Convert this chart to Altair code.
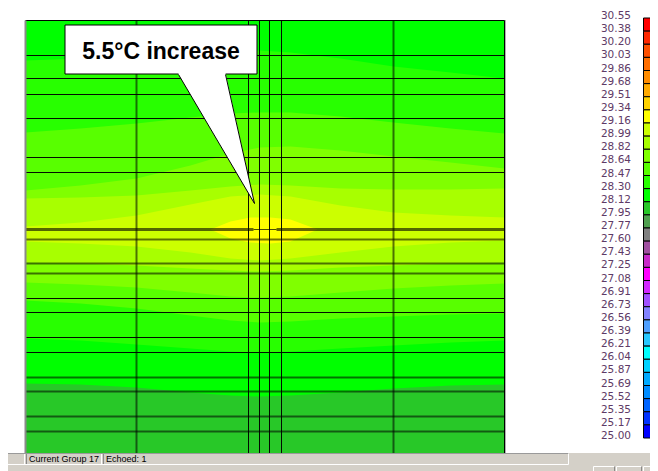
import altair as alt
import pandas as pd

# ---------------- legend (temperature scale, top -> bottom) ----------------
LEGEND_LABELS = ["30.55", "30.38", "30.20", "30.03", "29.86", "29.68", "29.51",
                 "29.34", "29.16", "28.99", "28.82", "28.64", "28.47", "28.30",
                 "28.12", "27.95", "27.77", "27.60", "27.43", "27.25", "27.08",
                 "26.91", "26.73", "26.56", "26.39", "26.21", "26.04", "25.87",
                 "25.69", "25.52", "25.35", "25.17", "25.00"]
LEGEND_COLORS = ["#FF0000", "#FF2800", "#FF5000", "#FF6E00", "#FF8C00", "#FFAA00",
                 "#FFD200", "#FFFF00", "#CCFF00", "#A8FF00", "#80FF00", "#58FF00",
                 "#28FF00", "#00FF00", "#28C828", "#50A050", "#808080", "#A050A0",
                 "#C828C8", "#FF00FF", "#D228FF", "#A050FF", "#8282FF", "#50A0FF",
                 "#28C8FF", "#00FFFF", "#00D2FF", "#00AAFF", "#008CFF", "#0064FF",
                 "#0032FF", "#0000FF"]

# ---------------- temperature field (mesh units) ----------------
PLOT_W = 47.9
PLOT_H = 43.3
BACKGROUND_BAND = 14          # 27.95 - 28.12

CONTOUR_X = [0.0, 5.5, 11.1, 16.5, 20.5, 23.4, 26.5, 31.5, 36.8, 42.5, 47.9]
T2812_TOP = [43.3, 43.3, 43.3, 43.3, 43.3, 43.3, 43.3, 43.3, 43.3, 43.3, 43.3]
T2812_BOT = [7.0, 6.9, 6.6, 6.1, 5.8, 5.7, 5.8, 6.1, 6.5, 6.8, 6.9]
T2830_TOP = [39.3, 39.5, 39.8, 40.1, 40.3, 40.3, 40.1, 39.5, 38.7, 38.1, 37.5]
T2830_BOT = [11.5, 11.3, 10.9, 10.5, 10.2, 10.1, 10.2, 10.5, 10.8, 11.1, 11.3]
T2847_TOP = [32.1, 32.5, 33.0, 33.6, 34.0, 34.1, 34.1, 33.7, 33.1, 32.5, 32.0]
T2847_BOT = [15.3, 15.0, 14.5, 13.8, 13.3, 13.1, 13.2, 13.5, 13.7, 13.9, 14.0]
T2864_TOP = [26.3, 26.8, 27.5, 28.8, 30.0, 30.6, 30.7, 30.3, 29.7, 29.1, 28.5]
T2864_BOT = [17.1, 16.9, 16.6, 16.1, 15.7, 15.6, 15.7, 16.1, 16.5, 16.8, 17.0]
T2882_TOP = [25.5, 25.6, 25.8, 26.3, 26.7, 26.9, 26.8, 26.5, 26.4, 26.4, 26.5]
T2882_BOT = [19.1, 19.0, 18.8, 18.5, 18.3, 18.2, 18.3, 18.6, 18.8, 19.0, 19.1]
T2899_TOP = [22.7, 23.1, 23.8, 24.9, 25.7, 25.9, 25.7, 24.8, 24.1, 23.8, 23.6]
T2899_BOT = [21.2, 21.0, 20.7, 20.1, 19.5, 19.3, 19.5, 20.1, 20.7, 21.1, 21.3]
CORE_X = [18.5, 20.5, 22.5, 24.5, 26.5, 29.2]
T2916_TOP = [22.4, 23.2, 23.6, 23.6, 23.4, 22.4]
T2916_BOT = [22.4, 21.5, 21.1, 21.0, 21.2, 22.4]

LEVELS = [  # (legend band index, x, top, bottom)
    (13, CONTOUR_X, T2812_TOP, T2812_BOT),
    (12, CONTOUR_X, T2830_TOP, T2830_BOT),
    (11, CONTOUR_X, T2847_TOP, T2847_BOT),
    (10, CONTOUR_X, T2864_TOP, T2864_BOT),
    (9, CONTOUR_X, T2882_TOP, T2882_BOT),
    (8, CONTOUR_X, T2899_TOP, T2899_BOT),
    (7, CORE_X, T2916_TOP, T2916_BOT),
]

# ---------------- mesh lines ----------------
MESH_X_THIN = [22.3, 23.4, 24.4, 25.6]
MESH_X_HEAVY = [11.1, 36.8]
MESH_Y_THIN = [39.8, 37.5, 35.9, 33.5, 29.6, 28.1, 15.5, 14.1, 11.6, 10.1]
MESH_Y_HEAVY = [21.4, 19.0, 18.0, 7.6, 6.2, 3.7, 2.2]
CENTRE_Y = 22.4
CENTRE_HEAVY_FROM = [0.0, 25.1]
CENTRE_HEAVY_TO = [22.8, 47.9]
CENTRE_THIN_FROM = [22.8]
CENTRE_THIN_TO = [25.1]

# ---------------- annotation ----------------
CALLOUT_TEXT = "5.5°C increase"
CALLOUT_BOX_X = [3.95, 23.15]
CALLOUT_BOX_Y = [37.95, 42.85]
CALLOUT_TEXT_XY = [13.55, 39.45]
POINTER_X = [15.3, 20.0, 22.9]
POINTER_TOP = [38.05, 38.05, 25.0]
POINTER_BOT = [37.9, 29.9, 25.0]

STATUS_TEXTS = ["Current Group 17", "Echoed: 1"]

# ---------------- scales ----------------
W, H = 642, 463
XD = [-1.75, 62.45]
YD = [-1.75, 44.55]
LEG_D = [34.514, -0.762]


def X(f):
    return alt.X(f, type="quantitative", scale=alt.Scale(domain=XD), axis=None)


def Y(f):
    return alt.Y(f, type="quantitative", scale=alt.Scale(domain=YD), axis=None)


one = pd.DataFrame({"a": [0]})
layers = []

# background band
bg = pd.DataFrame({"x0": [0.0], "x1": [PLOT_W], "y0": [0.0], "y1": [PLOT_H]})
layers.append(alt.Chart(bg).mark_rect(color=LEGEND_COLORS[BACKGROUND_BAND]).encode(
    x=X("x0"), x2="x1", y=Y("y0"), y2="y1"))

for band, xs, tops, bots in LEVELS:
    d = pd.DataFrame({"x": xs, "top": tops, "bot": bots})
    layers.append(alt.Chart(d).mark_area(color=LEGEND_COLORS[band], interpolate="linear",
                                         orient="vertical").encode(
        x=X("x"), y=Y("top"), y2="bot"))


# mesh lines
def vlines(vals, width, opacity):
    d = pd.DataFrame({"x": vals, "y0": [0.0] * len(vals), "y1": [PLOT_H] * len(vals)})
    return alt.Chart(d).mark_rule(color="black", strokeWidth=width, opacity=opacity).encode(
        x=X("x"), y=Y("y0"), y2="y1")


def hlines(vals, x0s, x1s, width, opacity):
    d = pd.DataFrame({"y": vals, "x0": x0s, "x1": x1s})
    return alt.Chart(d).mark_rule(color="black", strokeWidth=width, opacity=opacity).encode(
        y=Y("y"), x=X("x0"), x2="x1")


n = len(MESH_Y_THIN)
layers.append(hlines(MESH_Y_THIN, [0.0] * n, [PLOT_W] * n, 1, 0.95))
n = len(MESH_Y_HEAVY)
layers.append(hlines(MESH_Y_HEAVY, [0.0] * n, [PLOT_W] * n, 2, 0.55))
layers.append(hlines([CENTRE_Y, CENTRE_Y], CENTRE_HEAVY_FROM, CENTRE_HEAVY_TO, 3, 0.6))
layers.append(hlines([CENTRE_Y], CENTRE_THIN_FROM, CENTRE_THIN_TO, 1, 0.7))
layers.append(vlines(MESH_X_THIN, 1, 0.95))
layers.append(vlines(MESH_X_HEAVY, 2, 0.55))

# plot frame
layers.append(alt.Chart(bg).mark_rule(color="black", strokeWidth=1).encode(
    y=Y("y1"), x=X("x0"), x2="x1"))
layers.append(alt.Chart(bg).mark_rule(color="#8a8a8a", strokeWidth=2).encode(
    x=X("x0"), y=Y("y0"), y2="y1"))
layers.append(alt.Chart(bg).mark_rule(color="black", strokeWidth=1).encode(
    x=X("x1"), y=Y("y0"), y2="y1"))
layers.append(alt.Chart(one).mark_rule(color="#b0b0b0", strokeWidth=1).encode(
    x=alt.value(497.5), y=alt.value(12), y2=alt.value(445)))

# callout
box = pd.DataFrame({"x0": [CALLOUT_BOX_X[0]], "x1": [CALLOUT_BOX_X[1]],
                    "y0": [CALLOUT_BOX_Y[0]], "y1": [CALLOUT_BOX_Y[1]]})
layers.append(alt.Chart(box).mark_rect(fill="white", stroke="black", strokeWidth=1).encode(
    x=X("x0"), x2="x1", y=Y("y0"), y2="y1"))
ptr = pd.DataFrame({"x": POINTER_X, "top": POINTER_TOP, "bot": POINTER_BOT})
layers.append(alt.Chart(ptr).mark_area(color="white", orient="vertical").encode(
    x=X("x"), y=Y("top"), y2="bot"))
edges = pd.DataFrame({"x": [POINTER_X[0], POINTER_X[2], POINTER_X[1], POINTER_X[2]],
                      "y": [POINTER_BOT[0], POINTER_BOT[2], POINTER_BOT[0], POINTER_BOT[2]],
                      "e": ["l", "l", "r", "r"]})
layers.append(alt.Chart(edges).mark_line(color="black", strokeWidth=1).encode(
    x=X("x"), y=Y("y"), detail="e:N"))
ctext = pd.DataFrame({"x": [CALLOUT_TEXT_XY[0]], "y": [CALLOUT_TEXT_XY[1]], "t": [CALLOUT_TEXT]})
layers.append(alt.Chart(ctext).mark_text(font="Liberation Sans", fontSize=23, fontWeight="bold",
                                         color="black", align="center",
                                         baseline="alphabetic").encode(
    x=X("x"), y=Y("y"), text="t:N"))

# legend
leg = pd.DataFrame({"k0": list(range(len(LEGEND_COLORS))),
                    "k1": [i + 1 for i in range(len(LEGEND_COLORS))],
                    "c": LEGEND_COLORS})


def LY(f):
    return alt.Y(f, type="quantitative", scale=alt.Scale(domain=LEG_D), axis=None)


layers.append(alt.Chart(leg).mark_rect(stroke="black", strokeWidth=1).encode(
    x=alt.value(635.5), x2=alt.value(645), y=LY("k0"), y2="k1",
    color=alt.Color("c:N", scale=None)))
labs = pd.DataFrame({"k": list(range(len(LEGEND_LABELS))), "t": LEGEND_LABELS})
layers.append(alt.Chart(labs).mark_text(font="DejaVu Sans", fontSize=10.5, color="#5e3a66",
                                        align="right", baseline="middle", dy=-2).encode(
    x=alt.value(623), y=LY("k"), text="t:N"))


# status bar
def vrect(x0, x1, y0, y1, **kw):
    return alt.Chart(one).mark_rect(**kw).encode(
        x=alt.value(x0), x2=alt.value(x1), y=alt.value(y0), y2=alt.value(y1))


def vrule(x0, x1, y0, y1, color):
    return alt.Chart(one).mark_rule(color=color, strokeWidth=1).encode(
        x=alt.value(x0), x2=alt.value(x1), y=alt.value(y0), y2=alt.value(y1))


layers.append(vrect(-8, W, 445, H, color="#D4D0C8"))
layers.append(vrule(-8, 560.5, 445.5, 445.5, "#9a9a9a"))
layers.append(vrule(-8, 560.5, 456.5, 456.5, "#ffffff"))
layers.append(vrule(560.5, 560.5, 445.5, 456.5, "#ffffff"))
layers.append(vrule(16.5, 16.5, 446, 456, "#ffffff"))
layers.append(vrule(18.5, 18.5, 446, 456, "#8a8a8a"))
layers.append(vrule(93.5, 93.5, 446, 456, "#ffffff"))
layers.append(vrule(95.5, 95.5, 446, 456, "#8a8a8a"))
for bx0, bx1 in [(585.5, 606.5), (608.5, 633.5), (635.5, 645)]:
    layers.append(vrule(bx0, bx1, 458.5, 458.5, "#ffffff"))
    layers.append(vrule(bx0, bx0, 458.5, 463, "#ffffff"))
    layers.append(vrule(bx1, bx1, 458.5, 463, "#8a8a8a"))
stat = pd.DataFrame({"t": STATUS_TEXTS, "px": [21, 98]})
layers.append(alt.Chart(stat).mark_text(font="Liberation Sans", fontSize=9, color="black",
                                        align="left", baseline="alphabetic").encode(
    x=alt.X("px:Q", scale=None, axis=None), y=alt.value(454), text="t:N"))

chart = alt.layer(*layers).resolve_scale(y="independent").properties(
    width=W, height=H, padding=0,
    autosize=alt.AutoSizeParams(type="none"),
    background="white",
).configure_view(stroke=None)

chart.save("out.html", embed_options={"renderer": "svg", "actions": False})
